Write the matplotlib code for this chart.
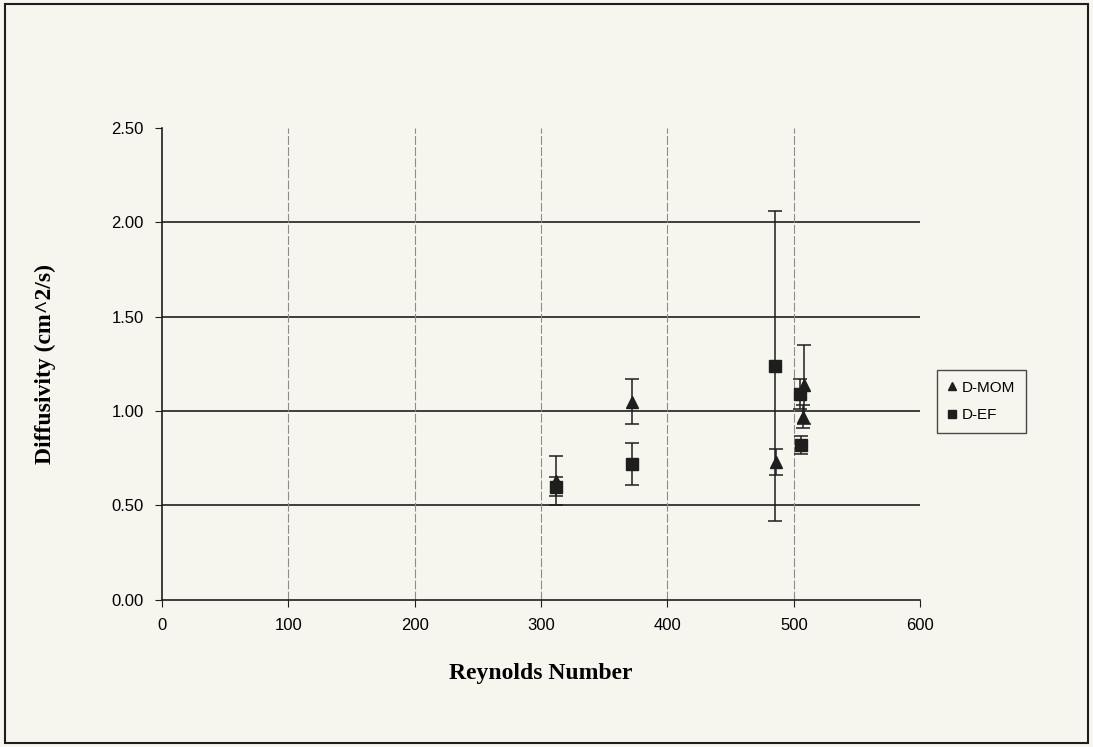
import matplotlib.pyplot as plt
import matplotlib.patches as mpatches

# D-MOM series (triangles)
mom_re = [312, 372, 486, 507, 508]
mom_d = [0.63, 1.05, 0.73, 0.97, 1.14]
mom_err = [0.13, 0.12, 0.07, 0.06, 0.21]

# D-EF series (squares)
ef_re = [312, 372, 485, 505, 506]
ef_d = [0.60, 0.72, 1.24, 1.09, 0.82]
ef_err = [0.05, 0.11, 0.82, 0.08, 0.05]

x_ticks = [0, 100, 200, 300, 400, 500, 600]
y_ticks = [0.0, 0.5, 1.0, 1.5, 2.0, 2.5]

bg = "#f6f6ef"
ink = "#1e1e1e"

fig = plt.figure(figsize=(10.93, 7.47), dpi=100, facecolor=bg)
ax = fig.add_axes([0.148, 0.197, 0.694, 0.632], facecolor=bg)

# outer frame around the whole chart
fig.patches.append(mpatches.Rectangle((0.005, 0.006), 0.99, 0.988, transform=fig.transFigure,
                                      fill=False, edgecolor=ink, linewidth=1.5))

# gridlines
for y in y_ticks[1:-1]:
    ax.axhline(y, color=ink, linewidth=1.2, zorder=1)
for x in x_ticks[1:-1]:
    ax.axvline(x, color="#8c8c8c", linewidth=0.8, linestyle=(0, (8, 2)), zorder=1)

ax.errorbar(mom_re, mom_d, yerr=mom_err, fmt="^", color=ink, markersize=8,
            ecolor=ink, elinewidth=1.1, capsize=5, capthick=1.1, label="D-MOM", zorder=3)
ax.errorbar(ef_re, ef_d, yerr=ef_err, fmt="s", color=ink, markersize=8,
            ecolor=ink, elinewidth=1.1, capsize=5, capthick=1.1, label="D-EF", zorder=3)

ax.set_xlim(0, 600)
ax.set_ylim(0, 2.5)
ax.set_xticks(x_ticks)
ax.set_yticks(y_ticks)
ax.set_yticklabels([f"{v:.2f}" for v in y_ticks])
ax.tick_params(direction="out", length=5, color=ink, labelsize=12, pad=8)
for lbl in ax.get_xticklabels() + ax.get_yticklabels():
    lbl.set_fontfamily("Liberation Sans")

for s in ["top", "right"]:
    ax.spines[s].set_visible(False)
for s in ["left", "bottom"]:
    ax.spines[s].set_color(ink)
    ax.spines[s].set_linewidth(1.2)

ax.set_xlabel("Reynolds Number", fontfamily="Liberation Serif", fontweight="bold",
              fontsize=17, labelpad=22)
ax.set_ylabel("Diffusivity (cm^2/s)", fontfamily="Liberation Serif", fontweight="bold",
              fontsize=17, labelpad=40)

handles, labels = ax.get_legend_handles_labels()
leg = ax.legend([h[0] for h in handles], labels, loc="center left",
                bbox_to_anchor=(1.012, 0.42), frameon=True, fancybox=False,
                edgecolor=ink, facecolor=bg, handlelength=0.6, handletextpad=0.3,
                borderpad=0.7, labelspacing=0.9, markerscale=0.8,
                prop={"family": "Liberation Sans", "size": 11})
leg.get_frame().set_linewidth(1.0)

fig.savefig("out.png", dpi=100, facecolor=bg)
